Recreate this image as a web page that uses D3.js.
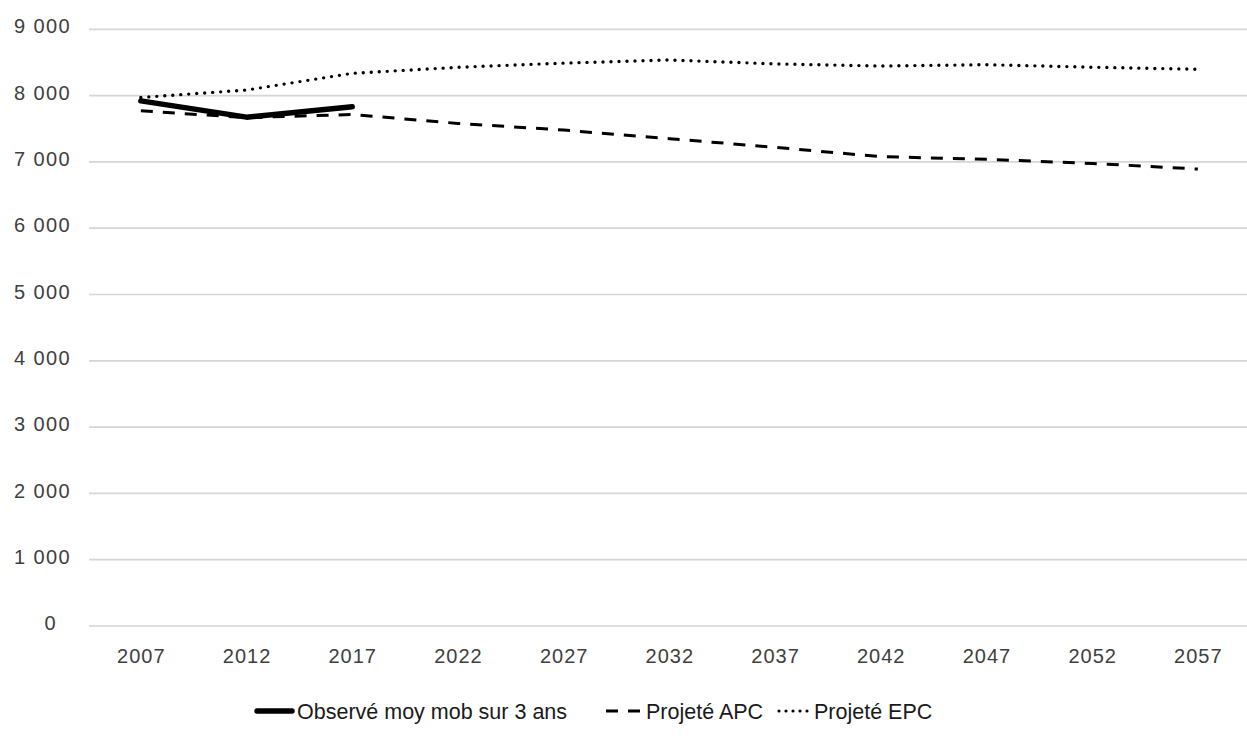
<!DOCTYPE html>
<html>
<head>
<meta charset="utf-8">
<script src="https://cdn.jsdelivr.net/npm/d3@7"></script>
<style>
  html, body { margin: 0; padding: 0; background: #fff; }
  svg { display: block; }
  .tick-label { font-family: "Liberation Sans", Arial, sans-serif; font-size: 20px; fill: #404040; letter-spacing: 1px; }
  .ytick { letter-spacing: 1.4px; }
  .legend-label { font-family: "Liberation Sans", Arial, sans-serif; font-size: 21.5px; fill: #1a1a1a; }
</style>
</head>
<body>
<svg id="chart" width="1247" height="740"></svg>
<script>
const years = ["2007","2012","2017","2022","2027","2032","2037","2042","2047","2052","2057"];
const yTicks = [0,1000,2000,3000,4000,5000,6000,7000,8000,9000];
const observed = [7920, 7675, 7832];
const projeteAPC = [7770, 7668, 7715, 7580, 7480, 7350, 7220, 7079, 7039, 6977, 6892];
const projeteEPC = [7972, 8084, 8336, 8427, 8490, 8537, 8478, 8446, 8466, 8428, 8397];
const seriesNames = ["Observé moy mob sur 3 ans", "Projeté APC", "Projeté EPC"];

const svg = d3.select("#chart");
const x = d3.scalePoint().domain(years).range([140.85, 1197.85]);
const y = d3.scaleLinear().domain([0, 9000]).range([626, 29.3]);

// gridlines
svg.append("g").selectAll("line").data(yTicks).join("line")
  .attr("x1", 89).attr("x2", 1251)
  .attr("y1", d => y(d)).attr("y2", d => y(d))
  .attr("stroke", "#d6d6d6").attr("stroke-width", 1.7);

const yAxis = d3.axisLeft(y).tickValues(yTicks).tickSize(0)
  .tickFormat(d => d === 0 ? "0\u00a0\u00a0" : d3.format(",")(d).replace(/,/g, " "));
const gy = svg.append("g").attr("transform", "translate(71,0)").call(yAxis);
gy.select(".domain").remove();
gy.selectAll("text").attr("class", "tick-label ytick").attr("x", 0).attr("dy", "0.18em").attr("text-anchor", "end");

const xAxis = d3.axisBottom(x).tickSize(0);
const gx = svg.append("g").attr("transform", "translate(0,626)").call(xAxis);
gx.select(".domain").remove();
gx.selectAll("text").attr("class", "tick-label").attr("y", 0).attr("dy", "37px");

const line = d3.line().x((d, i) => x(years[i])).y(d => y(d));

svg.append("path").datum(projeteEPC).attr("d", line)
  .attr("fill", "none").attr("stroke", "#000").attr("stroke-width", 3.4)
  .attr("stroke-linecap", "round").attr("stroke-dasharray", "0 8");
svg.append("path").datum(projeteAPC).attr("d", line)
  .attr("fill", "none").attr("stroke", "#000").attr("stroke-width", 3)
  .attr("stroke-dasharray", "12 10");
svg.append("path").datum(observed).attr("d", line)
  .attr("fill", "none").attr("stroke", "#000").attr("stroke-width", 5.5)
  .attr("stroke-linecap", "round").attr("stroke-linejoin", "round");

// legend
const legendItems = [
  {name: seriesNames[0], x1: 257, x2: 292, tx: 297, dash: null, w: 5.5, cap: "round"},
  {name: seriesNames[1], x1: 606, x2: 640, tx: 646, dash: "12 10", w: 3, cap: "butt"},
  {name: seriesNames[2], x1: 779, x2: 809, tx: 814, dash: "0 7", w: 3.2, cap: "round"}
];
const lg = svg.append("g");
legendItems.forEach(it => {
  lg.append("line").attr("x1", it.x1).attr("x2", it.x2).attr("y1", 711).attr("y2", 711)
    .attr("stroke", "#000").attr("stroke-width", it.w).attr("stroke-linecap", it.cap)
    .attr("stroke-dasharray", it.dash);
  lg.append("text").attr("class", "legend-label").attr("x", it.tx).attr("y", 718.5).text(it.name);
});
</script>
</body>
</html>
